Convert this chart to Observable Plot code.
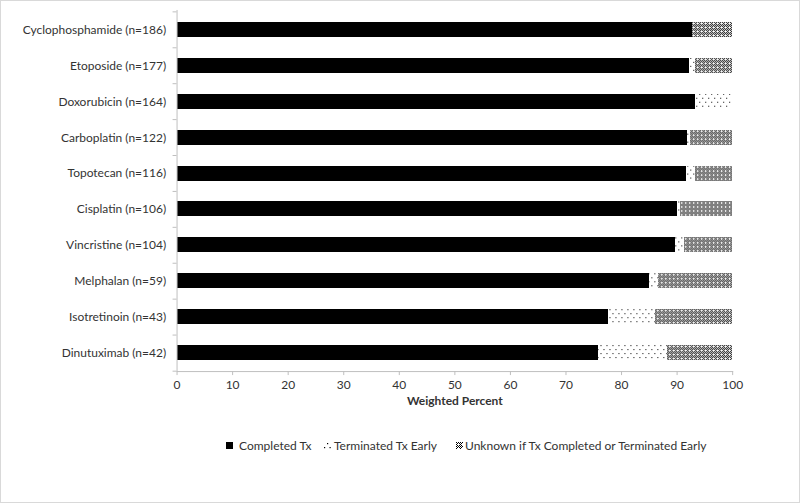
<!DOCTYPE html>
<html>
<head>
<meta charset="utf-8">
<script src="https://cdn.jsdelivr.net/npm/d3@7"></script>
<script src="https://cdn.jsdelivr.net/npm/@observablehq/plot@0.6"></script>
<style>
  html, body { margin: 0; padding: 0; background: #fff; }
  #wrap { width: 800px; height: 503px; box-sizing: border-box; border: 1px solid #d9d9d9; position: relative; font-family: Lato, "Open Sans", sans-serif; color: #333; }
  #legend { position: absolute; top: 436px; left: 0; width: 800px; height: 16px; font-size: 12px; color: #333; }
  #legend .item { position: absolute; top: 0; height: 16px; display: flex; align-items: center; white-space: nowrap; }
</style>
</head>
<body>
<svg width="0" height="0" style="position:absolute">
  <defs>
    <pattern id="patTerm" x="0" y="0" width="6" height="8" patternUnits="userSpaceOnUse">
      <rect width="6" height="8" fill="#fff"/>
      <rect x="1" y="1" width="1" height="1" fill="#000"/>
      <rect x="4" y="5" width="1" height="1" fill="#000"/>
    </pattern>
    <pattern id="patUnk" x="0" y="0" width="4" height="4" patternUnits="userSpaceOnUse">
      <rect width="4" height="4" fill="#fff"/>
      <rect x="0" y="0" width="1" height="1" fill="#000"/>
      <rect x="2" y="0" width="1" height="1" fill="#000"/>
      <rect x="1" y="1" width="1" height="1" fill="#000"/>
      <rect x="3" y="1" width="1" height="1" fill="#000"/>
      <rect x="0" y="2" width="1" height="1" fill="#000"/>
      <rect x="1" y="3" width="1" height="1" fill="#000"/>
      <rect x="3" y="3" width="1" height="1" fill="#000"/>
    </pattern>
  </defs>
</svg>
<div id="wrap">
  <div id="chart"></div>
  <div id="legend"></div>
</div>
<script>
const drugs = ["Cyclophosphamide (n=186)", "Etoposide (n=177)", "Doxorubicin (n=164)", "Carboplatin (n=122)", "Topotecan (n=116)", "Cisplatin (n=106)", "Vincristine (n=104)", "Melphalan (n=59)", "Isotretinoin (n=43)", "Dinutuximab (n=42)"];
const completed  = [92.7, 92.2, 93.4, 91.9, 91.7, 90.0, 89.8, 85.1, 77.6, 75.8];
const terminated = [0.0, 1.1, 6.6, 0.5, 1.6, 0.6, 1.6, 1.5, 8.5, 12.4];
const unknown    = [7.3, 6.7, 0.0, 7.6, 6.7, 9.4, 8.6, 13.4, 13.9, 11.8];
const seriesNames = ["Completed Tx", "Terminated Tx Early", "Unknown if Tx Completed or Terminated Early"];
const seriesFills = ["#000", "url(#patTerm)", "url(#patUnk)"];
const xTicks = [0, 10, 20, 30, 40, 50, 60, 70, 80, 90, 100];

const rows = [];
drugs.forEach((d, i) => {
  rows.push({drug: d, series: seriesNames[0], value: completed[i]});
  rows.push({drug: d, series: seriesNames[1], value: terminated[i]});
  rows.push({drug: d, series: seriesNames[2], value: unknown[i]});
});

const step = (371 - 9) / drugs.length;

const chart = Plot.plot({
  width: 800,
  height: 425,
  marginLeft: 176,
  marginRight: 67,
  marginTop: 9,
  marginBottom: 54,
  style: {fontFamily: "Lato, 'Open Sans', sans-serif", fontSize: "12px", color: "#333", background: "transparent"},
  x: {domain: [0, 100]},
  y: {domain: drugs, paddingInner: 0.59, paddingOuter: 0.295},
  color: {type: "ordinal", domain: seriesNames, range: seriesFills},
  marks: [
    Plot.barX(rows, Plot.stackX({x: "value", y: "drug", fill: "series", order: null, shapeRendering: "crispEdges"})),
    Plot.ruleX([0], {stroke: "#bfbfbf"}),
    Plot.frame({anchor: "bottom", stroke: "#bfbfbf"}),
    Plot.axisY({tickSize: 0, tickPadding: 11, label: null}),
    Plot.axisY({tickSize: 4, tickFormat: () => "", label: null, dy: -step / 2, stroke: "#bfbfbf"}),
    Plot.axisY([drugs[drugs.length - 1]], {tickSize: 4, tickFormat: () => "", label: null, dy: step / 2, stroke: "#bfbfbf"}),
    Plot.axisX({ticks: xTicks, tickSize: 4, tickPadding: 5, stroke: "#bfbfbf", label: "Weighted Percent", labelAnchor: "center", labelOffset: 34, labelArrow: "none", fontSize: 12}),
  ]
});
document.getElementById("chart").appendChild(chart);
chart.querySelectorAll("g[aria-label='x-axis label'] text").forEach(t => { t.style.fontWeight = "bold"; });

// legend, laid out like the reference
const legend = document.getElementById("legend");
const legendItems = [
  {left: 225, icon: '<svg width="7" height="7" style="margin-right:6px"><rect width="7" height="7" fill="#000"/></svg>'},
  {left: 323, icon: '<svg width="7" height="7" style="margin-right:3px"><rect x="0" y="5" width="1.2" height="1.2" fill="#000"/><rect x="3" y="1" width="1.2" height="1.2" fill="#000"/><rect x="5.5" y="5" width="1.2" height="1.2" fill="#000"/></svg>'},
  {left: 455, icon: '<svg width="7" height="7" style="margin-right:2px"><rect width="7" height="7" fill="url(#patUnk)"/></svg>'}
];
seriesNames.forEach((n, i) => {
  const it = document.createElement("div");
  it.className = "item";
  it.style.left = legendItems[i].left + "px";
  it.innerHTML = legendItems[i].icon + "<span>" + n + "</span>";
  legend.appendChild(it);
});
</script>
</body>
</html>
